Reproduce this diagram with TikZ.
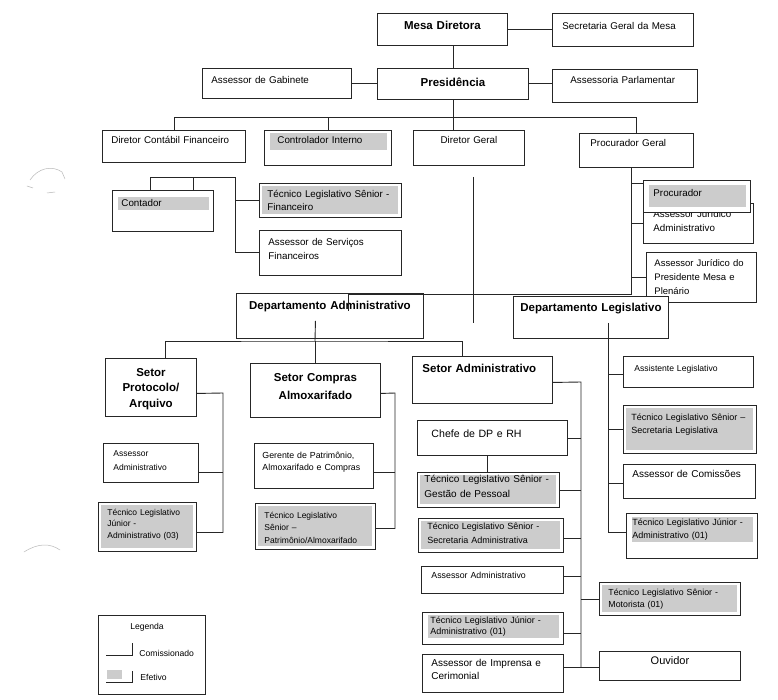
\documentclass[tikz,border=0pt]{standalone}
\usepackage{fontspec}
\setmainfont{Liberation Sans}
\usetikzlibrary{positioning,calc}

\tikzset{
  box/.style={draw, anchor=north west, inner ysep=0pt, align=left, fill=white, text=black},
  fs/.style 2 args={font=\fontsize{#1}{#2}\selectfont},
  hd/.style={font=\fontsize{11.5}{#1}\selectfont\bfseries},
  hd/.default=15,
  efet/.style={path picture={\fill[gray!40] ([shift={(3pt,-3pt)}]path picture bounding box.north west) rectangle ([shift={(-3pt,3pt)}]path picture bounding box.south east);}},
  band/.style 2 args={path picture={\fill[gray!40] ([shift={(6pt,-#1)}]path picture bounding box.north west) rectangle ([shift={(-4pt,-#2)}]path picture bounding box.north east);}}
}

\begin{document}
\begin{tikzpicture}[x=1pt,y=-1pt,line width=0.9pt,black!85]
\useasboundingbox[fill=white] (0,0) rectangle (778,700);
% scan marks
\draw[gray!55,line width=0.5pt] (30,180) .. controls (38,168) and (52,165) .. (62,172) -- (65,179);
\draw[gray!55,line width=0.5pt] (27,186) -- (33,188) (47,193) -- (55,192);
\draw[gray!55,line width=0.5pt] (24,552) .. controls (38,543) and (50,543) .. (60,550);

% top
\node[box, hd, align=center, inner xsep=5pt, text width=120pt, text height=16pt, text depth=16pt] (mesa) at (377,13) {Mesa Diretora};
\node[box, fs={9.8}{12}, inner xsep=10pt, text width=121pt, text height=16pt, text depth=17pt] (secret) at (552,13) {Secretaria Geral da Mesa};
\node[box, fs={9.8}{12}, inner xsep=9pt, text width=131pt, text height=15.5pt, text depth=14.5pt] (gabinete) at (202,68) {Assessor de Gabinete};
\node[box, hd, align=center, inner xsep=5pt, text width=141pt, text height=17.8pt, text depth=13.2pt] (pres) at (377,68) {Presidência};
\node[box, fs={9.8}{12}, inner xsep=18pt, text width=109pt, text height=14.5pt, text depth=18.5pt] (parlam) at (552,69) {Assessoria Parlamentar};

% second row
\node[box, fs={9.8}{12}, inner xsep=9pt, text width=125pt, text height=13.5pt, text depth=18.5pt] (dcf) at (102,130) {Diretor Contábil Financeiro};
\node[box, band={3pt}{20pt}, fs={9.8}{12}, inner xsep=13pt, text width=101pt, text height=13.5pt, text depth=21.5pt] (contr) at (264,130) {Controlador Interno};
\node[box, fs={9.8}{12}, align=center, inner xsep=5pt, text width=101pt, text height=13.5pt, text depth=21.5pt] (dg) at (413,130) {Diretor Geral};
\node[box, fs={9.8}{12}, inner xsep=11pt, text width=92pt, text height=13.5pt, text depth=20.5pt] (pg) at (579,133) {Procurador Geral};

% financeiro
\node[box, band={7pt}{20pt}, fs={9.8}{12}, inner xsep=9pt, text width=83pt, text height=16.5pt, text depth=24.5pt] (contador) at (112,190) {Contador};
\node[box, efet, fs={9.8}{12.5}, inner xsep=8pt, text width=126pt, text height=14.5pt, text depth=19.5pt] (tecfin) at (259,183) {Técnico Legislativo Sênior -\\Financeiro};
\node[box, fs={9.8}{14}, inner xsep=9pt, text width=124pt, text height=15.5pt, text depth=29.5pt] (assserv) at (259,230) {Assessor de Serviços\\Financeiros};

% procuradoria
\node[box, fs={9.8}{14}, inner xsep=10pt, text width=90pt, text height=14.5pt, text depth=25.5pt] (assjuradm) at (643,203) {Assessor Jurídico\\Administrativo};
\node[box, band={5pt}{27pt}, fs={9.8}{12}, inner xsep=10pt, text width=87pt, text height=16.5pt, text depth=15.5pt] (procurador) at (643,180) {Procurador};
\node[box, fs={9.5}{14}, inner xsep=8pt, text width=94pt, text height=14.5pt, text depth=35.5pt] (assjurpres) at (646,252) {Assessor Jurídico do\\Presidente Mesa e\\Plenário};

% departamentos
\node[box, hd, align=center, inner xsep=5pt, text width=177pt, text height=16pt, text depth=29pt] (deptadm) at (236,293) {Departamento Administrativo};
\node[box, hd, align=center, inner xsep=5pt, text width=145pt, text height=15pt, text depth=27pt] (deptleg) at (513,296) {Departamento Legislativo};

% setor protocolo
\node[box, hd=15.5, align=center, inner xsep=4pt, text width=83pt, text height=18pt, text depth=40pt] (sprot) at (105,358) {Setor\\Protocolo/\\Arquivo};
\node[box, fs={8.5}{14}, inner xsep=10pt, text width=75pt, text height=13pt, text depth=26pt] (asadm1) at (103,443) {Assessor\\Administrativo};
\node[box, efet, fs={8.5}{11.5}, inner xsep=9pt, text width=80pt, text height=13pt, text depth=36pt] (tecja3) at (98,502) {Técnico Legislativo\\Júnior -\\Administrativo (03)};

% setor compras
\node[box, hd=18, align=center, inner xsep=5pt, text width=120pt, text height=18pt, text depth=36pt] (scomp) at (250,363) {Setor Compras\\Almoxarifado};
\node[box, fs={8.8}{12}, inner xsep=8pt, text width=103pt, text height=15pt, text depth=30pt] (gerente) at (254,443) {Gerente de Patrimônio,\\Almoxarifado e Compras};
\node[box, efet, fs={8.5}{12.5}, inner xsep=9pt, text width=102pt, text height=15pt, text depth=31pt] (tecpa) at (255,503) {Técnico Legislativo\\Sênior –\\Patrimônio/Almoxarifado};

% setor administrativo
\node[box, hd, inner xsep=10pt, text width=120pt, text height=16pt, text depth=31pt] (sadm) at (412,356) {Setor Administrativo};
\node[box, fs={10.6}{13}, inner xsep=14pt, text width=122pt, text height=17pt, text depth=18pt] (chefe) at (417,420) {Chefe de DP e RH};
\node[box, efet, fs={10}{15}, inner xsep=7pt, text width=128pt, text height=10pt, text depth=25pt] (tecgp) at (417,472) {Técnico Legislativo Sênior -\\Gestão de Pessoal};
\node[box, efet, fs={9}{14}, inner xsep=9pt, text width=127pt, text height=11pt, text depth=23pt] (tecsa) at (418,518) {Técnico Legislativo Sênior -\\Secretaria Administrativa};
\node[box, fs={8.8}{12}, inner xsep=10pt, text width=122pt, text height=12pt, text depth=15pt] (asadm2) at (421,566) {Assessor Administrativo};
\node[box, band={3pt}{26pt}, fs={9}{11.5}, inner xsep=8pt, text width=125pt, text height=11pt, text depth=21pt] (tecja1) at (422,612) {Técnico Legislativo Júnior -\\Administrativo (01)};
\node[box, fs={10}{12.5}, inner xsep=9pt, text width=123pt, text height=12.5pt, text depth=25.5pt] (imprensa) at (422,654) {Assessor de Imprensa e\\Cerimonial};
\node[box, efet, fs={8.8}{12}, inner xsep=9pt, text width=123pt, text height=13pt, text depth=20pt] (motorista) at (599,582) {Técnico Legislativo Sênior -\\Motorista (01)};
\node[box, fs={11}{13}, align=center, inner xsep=5pt, text width=131pt, text height=13pt, text depth=16pt] (ouvidor) at (599,651) {Ouvidor};

% departamento legislativo
\node[box, fs={8.6}{11}, inner xsep=11pt, text width=108pt, text height=15pt, text depth=16pt] (assist) at (623,356) {Assistente Legislativo};
\node[box, efet, fs={9}{13}, inner xsep=8pt, text width=117pt, text height=15.5pt, text depth=32.5pt] (tecsl) at (623,405) {Técnico Legislativo Sênior –\\Secretaria Legislativa};
\node[box, fs={10}{12}, inner xsep=9pt, text width=114pt, text height=12.6pt, text depth=21.4pt] (comis) at (623,464) {Assessor de Comissões};
\node[box, band={4pt}{29pt}, fs={9}{13}, inner xsep=6pt, text width=119pt, text height=12pt, text depth=33pt] (tecjl) at (626,513) {Técnico Legislativo Júnior -\\Administrativo (01)};

% legenda
\node[box, inner sep=0pt, minimum width=107pt, minimum height=79pt] (leg) at (98,615) {};
\node[fs={8.6}{10}, text=black] (legt) at (147,627) {Legenda};
\draw (106,655) -| (132,643);
\node[fs={8.6}{10}, text=black, anchor=base west, inner sep=0pt] (comi) at (139,656) {Comissionado};
\fill[gray!40] (107,670) rectangle (122,679);
\draw (106,682) -| (132,671);
\node[fs={8.6}{10}, text=black, anchor=base west, inner sep=0pt] (efe) at (140,680) {Efetivo};

% connectors, top
\draw (mesa.east) -- (mesa.east -| secret.west);
\draw (pres.north) -- (pres.north |- mesa.south);
\draw (gabinete.east) -- (gabinete.east -| pres.west);
\draw (pres.east) -- (pres.east -| parlam.west);
\draw (pres.south) -- ++(0,18) coordinate (b1);
\draw (dcf.north) |- (b1) -| (pg.north);
\draw (contr.north) -- (contr.north |- b1);
\draw (b1) -- (b1 |- dg.north);

% financeiro
\coordinate (cb) at (235,177);
\draw ([xshift=38pt]contador.north west) |- (cb) |- (assserv.west);
\draw ([xshift=81pt]contador.north west) -- ++(0,-13);
\draw (cb |- tecfin.west) -- (tecfin.west);

% procuradoria and departamentos
\coordinate (pj) at (631,294);
\draw (pg.south -| pj) -- (pj) -| ([xshift=18.5pt,yshift=-18pt]deptadm.north);
\draw ([yshift=13pt]procurador.west) -- ++(-12,0);
\draw (assjuradm.west) -- (assjuradm.west -| pj);
\draw (assjurpres.west) -- (assjurpres.west -| pj);
\draw ([xshift=4.5pt,yshift=-11pt]dg.south) -- ++(0,146);

% setores
\coordinate (ab) at (315,341);
\draw ([xshift=-14.5pt,yshift=18pt]deptadm.south) -- (ab);
\draw ([xshift=14.5pt]sprot.north) |- (ab) -| ([xshift=-20pt]sadm.north);
\draw (scomp.north) -- (scomp.north |- ab);

\coordinate (pv) at (223,393);
\draw ([yshift=-6pt]sprot.east) -- (pv) |- ([yshift=-5.5pt]tecja3.east);
\draw ([yshift=-9.5pt]asadm1.east) -- ([yshift=-9.5pt]asadm1.east -| pv);

\coordinate (cv) at (395,393);
\draw ([yshift=-3pt]scomp.east) -- (cv) |- ([yshift=-2pt]tecpa.east);
\draw ([yshift=-6.5pt]gerente.east) -- ([yshift=-6.5pt]gerente.east -| cv);

\coordinate (sv) at (581,382);
\draw ([yshift=-2.5pt]sadm.east) -- (sv) |- ([yshift=-1.5pt]ouvidor.west);
\foreach \n/\s in {chefe/0pt,tecgp/0pt,tecsa/-3pt,asadm2/3.5pt,tecja1/-5pt,imprensa/6pt}
  \draw ([yshift=\s]\n.east) -- ([yshift=\s]\n.east -| sv);
\draw (motorista.west) -- (motorista.west -| sv);
\draw ([xshift=-5pt]chefe.south) coordinate (cs) -- (cs |- tecgp.north);

\coordinate (lv) at ([xshift=17.5pt,yshift=16pt]deptleg.south);
\draw (lv) |- ([yshift=3.5pt]tecjl.west);
\foreach \n/\s in {assist/-2.5pt,tecsl/0pt,comis/-2pt}
  \draw ([yshift=\s]\n.west) -- ([yshift=\s]\n.west -| lv);
\end{tikzpicture}
\end{document}
